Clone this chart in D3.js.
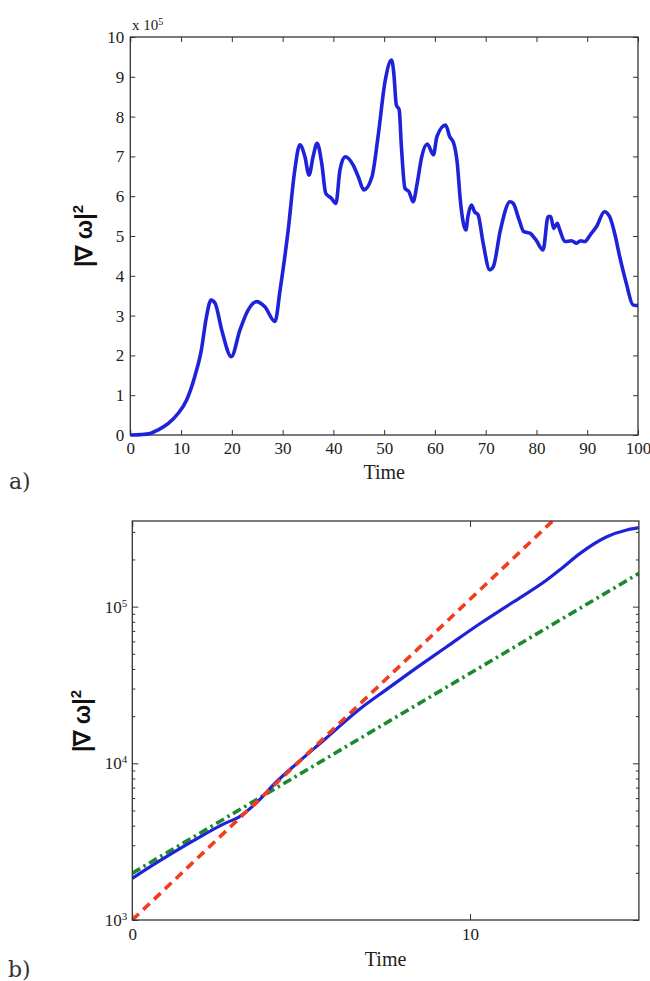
<!DOCTYPE html>
<html>
<head>
<meta charset="utf-8">
<script src="https://cdn.jsdelivr.net/npm/d3@7"></script>
<style>
	body { margin: 0; background: #fff; }
</style>
</head>
<body>
<div id="chart1"></div>
<script>
'use strict';

// panel a) - values in units of 1e5
var timeA = [0, 2, 3.9, 5.5, 7.5, 9.4, 11.1, 12.7, 14.0, 15.0, 15.9, 16.7, 18.0, 19.9, 21.6, 23.2, 24.9,
	26.5, 28.5, 29.5, 31.1, 32.4, 33.4, 34.4, 35.2, 36.0, 36.8, 37.7, 38.5, 39.6, 40.5, 41.3, 42.3,
	43.9, 44.9, 46.0, 47.6, 48.8, 50.2, 51.45, 51.9, 52.4, 52.96, 53.4, 54.1, 54.9, 55.7, 56.5, 57.4,
	58.5, 59.7, 60.4, 62.1, 62.9, 63.7, 64.4, 65.0, 66.1, 66.5, 67.2, 67.8, 68.5, 69.5, 70.8, 71.5,
	72.9, 74.8, 75.4, 76.6, 77.5, 78.7, 79.9, 81.3, 82.3, 82.8, 83.4, 84.1, 84.6, 85.6, 86.9, 87.9,
	88.7, 89.5, 90.6, 91.8, 93.4, 94.4, 95.4, 96.4, 97.7, 99.0, 100];
var gradA = [0, 0.01, 0.04, 0.13, 0.29, 0.54, 0.88, 1.47, 2.14, 2.97, 3.39, 3.31, 2.64, 1.97, 2.64, 3.14, 3.35,
	3.22, 2.85, 3.64, 5.15, 6.66, 7.29, 6.99, 6.53, 6.99, 7.33, 6.83, 6.07, 5.95, 5.82, 6.66, 6.99,
	6.78, 6.49, 6.16, 6.49, 7.5, 8.9, 9.42, 9.09, 8.29, 8.17, 7.24, 6.2, 6.11, 5.86, 6.32, 6.99,
	7.31, 7.04, 7.5, 7.79, 7.5, 7.33, 6.83, 5.9, 5.15, 5.49, 5.78, 5.61, 5.53, 4.82, 4.15, 4.23,
	5.15, 5.86, 5.82, 5.4, 5.11, 5.07, 4.9, 4.65, 5.49, 5.49, 5.19, 5.32, 5.15, 4.86, 4.88, 4.82,
	4.88, 4.86, 5.03, 5.23, 5.61, 5.49, 5.07, 4.48, 3.81, 3.27, 3.25];
var xTicksA = [0, 10, 20, 30, 40, 50, 60, 70, 80, 90, 100];
var yTicksA = [0, 1, 2, 3, 4, 5, 6, 7, 8, 9, 10];

// panel b) - log scale, early times
var timeB = [0, 0.77, 1.76, 2.74, 3.14, 3.73, 4.22, 4.91, 5.71, 6.7, 7.49, 8.32, 9.31, 10.3,
	11.28, 12.27, 12.71, 13.26, 14.05, 14.64, 15];
var gradB = [1845, 2355, 3162, 4140, 4520, 5750, 7450, 10150, 14300, 21900, 29200, 39360, 55460, 78000,
	107000, 147900, 175400, 218800, 279300, 308300, 319200];
// fitted exponentials (end points)
var fitFastT = [0, 15];
var fitFastV = [1000, 1175000];
var fitSlowT = [0, 15];
var fitSlowV = [1990, 163000];
var xTicksB = [0, 10];
var yTicksB = [1e3, 1e4, 1e5];

var blue = '#1e22d8';
var red = '#f23c1e';
var green = '#1b8a2b';
var serif = "'Liberation Serif', 'Times New Roman', serif";

var svg = d3.select('#chart1').append('svg')
	.attr('width', 650)
	.attr('height', 981);

var zip = function(a, b) {
	return a.map(function(d, i) { return [d, b[i]]; });
};

var supText = function(sel, base, sup, supSize) {
	sel.text(null);
	sel.append('tspan').text(base);
	sel.append('tspan').attr('dy', '-0.55em').style('font-size', supSize).text(sup);
};

// matlab look: inward ticks, no domain line, serif labels
var styleAxis = function(s) {
	s.select('.domain').remove();
	s.selectAll('.tick line').attr('stroke', '#333');
	s.selectAll('.tick text')
		.attr('fill', '#222')
		.style('font-family', serif)
		.style('font-size', '17px');
};

var frame = function(g, x, y) {
	g.append('rect')
		.attr('x', x.range()[0])
		.attr('y', y.range()[1])
		.attr('width', x.range()[1] - x.range()[0])
		.attr('height', y.range()[0] - y.range()[1])
		.attr('fill', 'none')
		.attr('stroke', '#333')
		.attr('stroke-width', 1.3);
};

var ylabel = function(g, cx, cy) {
	var t = g.append('text')
		.attr('transform', 'translate(' + cx + ',' + cy + ') rotate(-90)')
		.attr('text-anchor', 'middle')
		.attr('fill', '#111')
		.style('font-family', "'Liberation Sans', Arial, sans-serif")
		.style('font-weight', 'bold')
		.style('font-size', '23px');
	t.append('tspan').text('|\u2207 \u03c9|');
	t.append('tspan').attr('dy', '-0.6em').style('font-size', '15px').text('2');
};

// ---------- panel a ----------
var xa = d3.scaleLinear().domain([0, 100]).range([130.3, 638]);
var ya = d3.scaleLinear().domain([0, 10]).range([435, 37]);

var ga = svg.append('g');

ga.append('g')
	.attr('transform', 'translate(0,' + ya.range()[0] + ')')
	.call(d3.axisBottom(xa).tickValues(xTicksA).tickSize(-5).tickPadding(7))
	.call(styleAxis);
ga.append('g')
	.attr('transform', 'translate(0,' + ya.range()[1] + ')')
	.call(d3.axisTop(xa).tickValues(xTicksA).tickSize(-5).tickFormat(''))
	.call(styleAxis);
ga.append('g')
	.attr('transform', 'translate(' + xa.range()[0] + ',0)')
	.call(d3.axisLeft(ya).tickValues(yTicksA).tickSize(-5).tickPadding(6))
	.call(styleAxis);
ga.append('g')
	.attr('transform', 'translate(' + xa.range()[1] + ',0)')
	.call(d3.axisRight(ya).tickValues(yTicksA).tickSize(-5).tickFormat(''))
	.call(styleAxis);

frame(ga, xa, ya);

var lineA = d3.line()
	.x(function(d) { return xa(d[0]); })
	.y(function(d) { return ya(d[1]); })
	.curve(d3.curveMonotoneX);

ga.append('path')
	.datum(zip(timeA, gradA))
	.attr('d', lineA)
	.attr('fill', 'none')
	.attr('stroke', blue)
	.attr('stroke-width', 3.6)
	.attr('stroke-linejoin', 'round');

ga.append('text')
	.attr('x', 132)
	.attr('y', 30)
	.attr('fill', '#222')
	.style('font-family', serif)
	.style('font-size', '15px')
	.call(supText, 'x 10', '5', '10px');

ylabel(ga, 92, 236);

ga.append('text')
	.attr('x', (xa.range()[0] + xa.range()[1]) / 2)
	.attr('y', 479)
	.attr('text-anchor', 'middle')
	.attr('fill', '#222')
	.style('font-family', serif)
	.style('font-size', '20px')
	.text('Time');

ga.append('text')
	.attr('x', 9)
	.attr('y', 489)
	.attr('fill', '#333')
	.style('font-family', "'DejaVu Serif', serif")
	.style('font-size', '22px')
	.text('a)');

// ---------- panel b ----------
var xb = d3.scaleLinear().domain([0, 15]).range([132.3, 638.9]);
var yb = d3.scaleLog().domain([1e3, 3.52e5]).range([920, 521]);

var gb = svg.append('g');

var minor = [];
[1e3, 1e4, 1e5].forEach(function(p) {
	for (var k = 2; k <= 9; k++) {
		if (p * k < yb.domain()[1]) minor.push(p * k);
	}
});

gb.append('g')
	.attr('transform', 'translate(0,' + yb.range()[0] + ')')
	.call(d3.axisBottom(xb).tickValues(xTicksB).tickSize(-6).tickPadding(8))
	.call(styleAxis);
gb.append('g')
	.attr('transform', 'translate(0,' + yb.range()[1] + ')')
	.call(d3.axisTop(xb).tickValues(xTicksB).tickSize(-6).tickFormat(''))
	.call(styleAxis);

gb.append('g')
	.attr('transform', 'translate(' + xb.range()[0] + ',0)')
	.call(d3.axisLeft(yb).tickValues(yTicksB).tickSize(-6).tickPadding(5))
	.call(styleAxis)
	.selectAll('.tick text').each(function(d) {
		d3.select(this).call(supText, '10', String(Math.round(Math.log10(d))), '11px');
	});
gb.append('g')
	.attr('transform', 'translate(' + xb.range()[1] + ',0)')
	.call(d3.axisRight(yb).tickValues(yTicksB).tickSize(-6).tickFormat(''))
	.call(styleAxis);
gb.append('g')
	.attr('transform', 'translate(' + xb.range()[0] + ',0)')
	.call(d3.axisLeft(yb).tickValues(minor).tickSize(-3).tickFormat(''))
	.call(styleAxis);
gb.append('g')
	.attr('transform', 'translate(' + xb.range()[1] + ',0)')
	.call(d3.axisRight(yb).tickValues(minor).tickSize(-3).tickFormat(''))
	.call(styleAxis);

gb.append('clipPath').attr('id', 'clipb')
	.append('rect')
	.attr('x', xb.range()[0])
	.attr('y', yb.range()[1])
	.attr('width', xb.range()[1] - xb.range()[0])
	.attr('height', yb.range()[0] - yb.range()[1]);

var lineB = d3.line()
	.x(function(d) { return xb(d[0]); })
	.y(function(d) { return yb(d[1]); })
	.curve(d3.curveMonotoneX);

var plotB = gb.append('g').attr('clip-path', 'url(#clipb)');

plotB.append('path')
	.datum(zip(fitSlowT, fitSlowV))
	.attr('d', lineB)
	.attr('fill', 'none')
	.attr('stroke', green)
	.attr('stroke-width', 3.6)
	.attr('stroke-dasharray', '9,4,2.5,4');

plotB.append('path')
	.datum(zip(timeB, gradB))
	.attr('d', lineB)
	.attr('fill', 'none')
	.attr('stroke', blue)
	.attr('stroke-width', 3.2);

plotB.append('path')
	.datum(zip(fitFastT, fitFastV))
	.attr('d', lineB)
	.attr('fill', 'none')
	.attr('stroke', red)
	.attr('stroke-width', 3.6)
	.attr('stroke-dasharray', '9,6');

frame(gb, xb, yb);

ylabel(gb, 90, 721);

gb.append('text')
	.attr('x', (xb.range()[0] + xb.range()[1]) / 2)
	.attr('y', 966)
	.attr('text-anchor', 'middle')
	.attr('fill', '#222')
	.style('font-family', serif)
	.style('font-size', '20px')
	.text('Time');

gb.append('text')
	.attr('x', 8)
	.attr('y', 977)
	.attr('fill', '#333')
	.style('font-family', "'DejaVu Serif', serif")
	.style('font-size', '22px')
	.text('b)');
</script>
</body>
</html>
